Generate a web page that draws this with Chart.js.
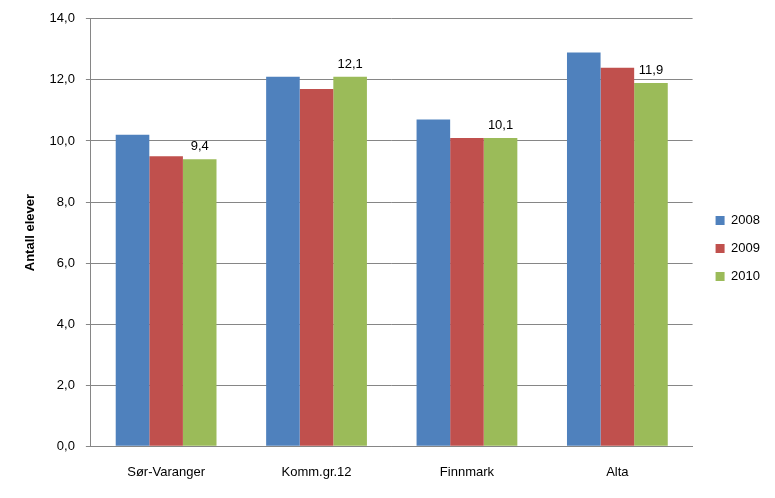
<!DOCTYPE html>
<html>
<head>
<meta charset="utf-8">
<script src="https://cdn.jsdelivr.net/npm/chart.js@4/dist/chart.umd.min.js"></script>
<style>
  html, body { margin: 0; padding: 0; background: #fff; }
  #chart { display: block; }
</style>
</head>
<body>
<canvas id="chart" width="775" height="498"></canvas>
<script>
// Data
const categories = ['Sør-Varanger', 'Komm.gr.12', 'Finnmark', 'Alta'];
const years = ['2008', '2009', '2010'];
const values2008 = [10.2, 12.1, 10.7, 12.9];
const values2009 = [9.5, 11.7, 10.1, 12.4];
const values2010 = [9.4, 12.1, 10.1, 11.9];
const yTicks = [0, 2, 4, 6, 8, 10, 12, 14];
const colors = ['#4f81bd', '#c0504d', '#9bbb59'];

const FONT = '"Liberation Sans", Arial, sans-serif';
const comma = v => v.toFixed(1).replace('.', ',');

// Labels above the 2010 bars only
const barLabels = {
    id: 'barLabels',
    afterDatasetsDraw(chart) {
        const { ctx } = chart;
        const meta = chart.getDatasetMeta(2);
        ctx.save();
        ctx.font = '13px ' + FONT;
        ctx.fillStyle = '#000';
        ctx.textAlign = 'center';
        ctx.textBaseline = 'bottom';
        meta.data.forEach((bar, i) => {
            ctx.fillText(comma(values2010[i]), bar.x, bar.y - 6);
        });
        ctx.restore();
    }
};

// Widen the legend box so the plot ends where the reference's does,
// then nudge the legend items right and up to sit like Excel's
const legendPlace = {
    id: 'legendPlace',
    beforeInit(chart) {
        const legend = chart.legend;
        const fit = legend.fit;
        legend.fit = function () {
            fit.call(this);
            this.width += 5;
        };
    },
    afterLayout(chart) {
        const legend = chart.legend;
        legend.left += 8;
        legend.right += 8;
        legend.top -= 5;
        legend.bottom -= 5;
    }
};

new Chart(document.getElementById('chart'), {
    type: 'bar',
    data: {
        labels: categories,
        datasets: [values2008, values2009, values2010].map((d, i) => ({
            label: years[i],
            data: d,
            backgroundColor: colors[i],
            borderWidth: 0,
            categoryPercentage: 0.67,
            barPercentage: 1.0
        }))
    },
    options: {
        responsive: false,
        animation: false,
        layout: { padding: { left: 19, top: 9, right: 8, bottom: 0 } },
        plugins: {
            tooltip: { enabled: false },
            legend: {
                position: 'right',
                labels: {
                    boxWidth: 9,
                    boxHeight: 9,
                    padding: 15,
                    color: '#000',
                    font: { family: FONT, size: 13 }
                }
            }
        },
        scales: {
            y: {
                min: 0,
                max: 14,
                afterBuildTicks: axis => { axis.ticks = yTicks.map(v => ({ value: v })); },
                ticks: {
                    color: '#000',
                    font: { family: FONT, size: 13 },
                    padding: 11,
                    callback: v => comma(v)
                },
                grid: { color: '#868686', tickLength: 5 },
                border: { color: '#868686' },
                title: {
                    display: true,
                    text: 'Antall elever',
                    color: '#000',
                    font: { family: FONT, size: 13, weight: 'bold' },
                    padding: { top: 4, bottom: 0 }
                }
            },
            x: {
                ticks: {
                    color: '#000',
                    font: { family: FONT, size: 13, lineHeight: 0.9 },
                    padding: 20
                },
                grid: { display: false, drawTicks: false },
                border: { color: '#868686' }
            }
        }
    },
    plugins: [barLabels, legendPlace]
});
</script>
</body>
</html>
